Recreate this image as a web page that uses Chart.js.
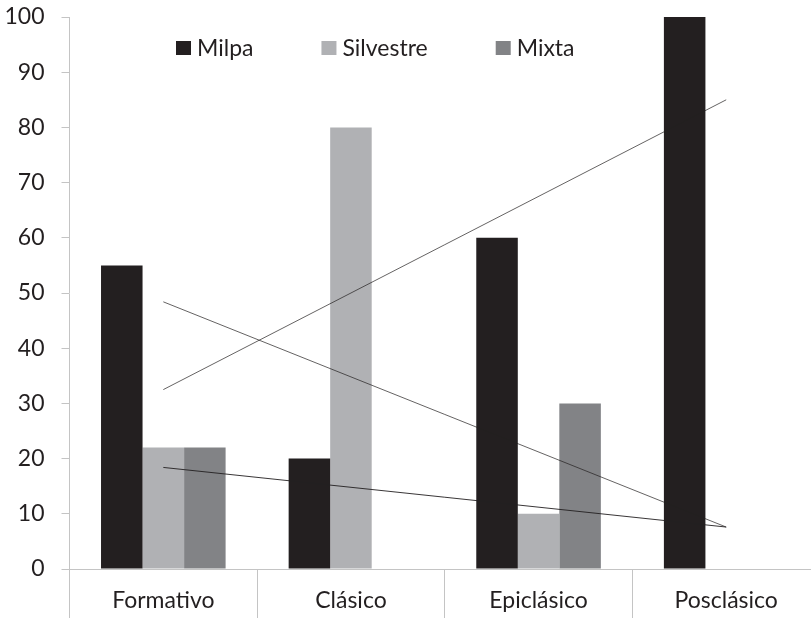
<!DOCTYPE html>
<html>
<head>
<meta charset="utf-8">
<script src="https://cdn.jsdelivr.net/npm/chart.js@4"></script>
<style>
  html, body { margin: 0; padding: 0; background: #fff; overflow: hidden; }
  #wrap { width: 811px; height: 622px; overflow: hidden; }
</style>
</head>
<body>
<div id="wrap"><canvas id="chart" width="822" height="622"></canvas></div>
<script>
// ----------------------
// DATA
// ----------------------
const categories = ["Formativo", "Clásico", "Epiclásico", "Posclásico"];
const seriesNames = ["Milpa", "Silvestre", "Mixta"];
const milpa = [55, 20, 60, 100];
const silvestre = [22, 80, 10, 0];
const mixta = [22, 0, 30, 0];
// trend lines (first and last category only)
const milpaTrend = [32.5, null, null, 85];
const silvestreTrend = [48.4, null, null, 7.6];
const mixtaTrend = [18.4, null, null, 7.6];
const yTicks = [0, 10, 20, 30, 40, 50, 60, 70, 80, 90, 100];

const colors = ["#231f20", "#b0b1b4", "#828386"];
const axisColor = "#c4c4c4";
const textColor = "#231f20";
const fontFamily = "Lato, 'Open Sans', sans-serif";
const fontSize = 23;

// ----------------------
// LEGEND (drawn inside plot area)
// ----------------------
const innerLegend = {
    id: "innerLegend",
    afterDraw(chart) {
        const ctx = chart.ctx;
        ctx.save();
        ctx.font = `${fontSize}px ${fontFamily}`;
        ctx.textBaseline = "middle";
        let x = 176;
        const y = 48;
        chart.data.datasets.filter(d => d.type === "bar").forEach(d => {
            ctx.fillStyle = d.backgroundColor;
            ctx.fillRect(x, y - 7, 15, 14);
            ctx.fillStyle = textColor;
            ctx.fillText(d.label, x + 21, y + 1);
            x += 21 + ctx.measureText(d.label).width + 68;
        });
        ctx.restore();
    }
};

const barSet = (label, data, color) => ({
    type: "bar", label, data, backgroundColor: color,
    categoryPercentage: 0.664, barPercentage: 1, order: 1
});
const trendSet = (label, data, width) => ({
    type: "line", label, data, borderColor: "#231f20", borderWidth: width,
    pointRadius: 0, spanGaps: true, fill: false, order: 0
});

new Chart(document.getElementById("chart"), {
    data: {
        labels: categories,
        datasets: [
            barSet(seriesNames[0], milpa, colors[0]),
            barSet(seriesNames[1], silvestre, colors[1]),
            barSet(seriesNames[2], mixta, colors[2]),
            trendSet("Tendencia Milpa", milpaTrend, 0.7),
            trendSet("Tendencia Silvestre", silvestreTrend, 0.7),
            trendSet("Tendencia Mixta", mixtaTrend, 0.9)
        ]
    },
    options: {
        responsive: false,
        animation: false,
        layout: { padding: { top: 17, right: 2, left: 0, bottom: 0 } },
        plugins: {
            legend: { display: false },
            tooltip: { enabled: false }
        },
        scales: {
            x: {
                offset: true,
                border: { color: axisColor, width: 1 },
                grid: { offset: true, drawOnChartArea: false, color: axisColor, tickLength: 49 },
                ticks: { color: textColor, font: { family: fontFamily, size: fontSize }, padding: -31, maxRotation: 0 },
                afterFit: s => { s.height = 53; s.paddingLeft = 0; s.paddingRight = 0; }
            },
            y: {
                min: 0, max: 100,
                afterBuildTicks: s => { s.ticks = yTicks.map(v => ({ value: v })); },
                border: { color: axisColor, width: 1 },
                grid: { drawOnChartArea: false, color: axisColor, tickLength: 8 },
                ticks: { color: textColor, font: { family: fontFamily, size: fontSize }, padding: 17 },
                afterFit: s => { s.width = 69.5; s.paddingTop = 0; s.paddingBottom = 0; }
            }
        }
    },
    plugins: [innerLegend]
});
</script>
</body>
</html>
